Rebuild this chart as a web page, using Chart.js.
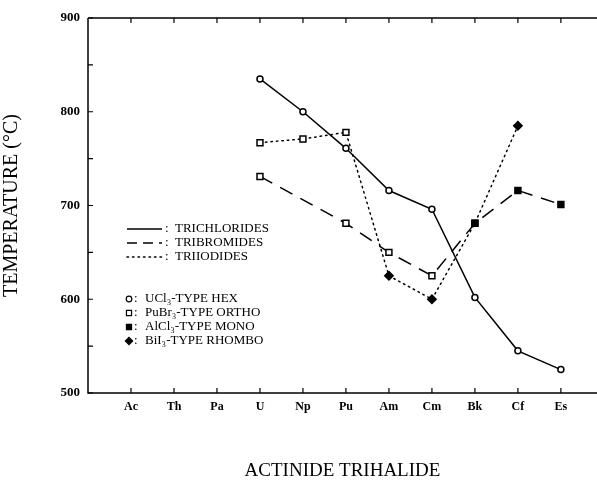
<!DOCTYPE html>
<html>
<head>
<meta charset="utf-8">
<script src="https://cdn.jsdelivr.net/npm/chart.js@4/dist/chart.umd.min.js"></script>
<style>
  html, body { margin: 0; padding: 0; background: #fff; }
  #wrap { width: 597px; height: 485px; position: relative; }
</style>
</head>
<body>
<div id="wrap"><canvas id="c" width="597" height="485"></canvas></div>
<script>
// ---- data ----
const categories = ['Ac', 'Th', 'Pa', 'U', 'Np', 'Pu', 'Am', 'Cm', 'Bk', 'Cf', 'Es'];
const trichlorides = [null, null, null, 835, 800, 761, 716, 696, 602, 545, 525];
const tribromides  = [null, null, null, 731, null, 681, 650, 625, 681, 716, 701];
const triiodides   = [null, null, null, 767, 771, 778, 625, 600, 681, 785, null];
// structure type of each point: H = UCl3 hex, O = PuBr3 ortho, M = AlCl3 mono, R = BiI3 rhombo
const trichlorideTypes = [null, null, null, 'H', 'H', 'H', 'H', 'H', 'H', 'H', 'H'];
const tribromideTypes  = [null, null, null, 'O', null, 'O', 'O', 'O', 'M', 'M', 'M'];
const triiodideTypes   = [null, null, null, 'O', 'O', 'O', 'R', 'R', 'M', 'R', null];
const yTicks = [500, 550, 600, 650, 700, 750, 800, 850, 900];
const seriesNames = ['TRICHLORIDES', 'TRIBROMIDES', 'TRIIODIDES'];
const typeNames = ['UCl\u2083-TYPE HEX', 'PuBr\u2083-TYPE ORTHO', 'AlCl\u2083-TYPE MONO', 'BiI\u2083-TYPE RHOMBO'];

const SERIF = '"Liberation Serif", "DejaVu Serif", serif';
const X_MIN = -1, X_MAX = 10.84;
const typeStyle = { H: 'circle', O: 'rect', M: 'rect', R: 'rectRot' };
const typeFill  = { H: '#fff', O: '#fff', M: '#000', R: '#000' };
const typeRadius = { H: 3, O: 4.2, M: 4.2, R: 4.2 };

function makeDataset(label, values, types, dash) {
  return {
    label,
    data: values.map((v, i) => ({ x: i, y: v })),
    borderColor: '#000',
    borderWidth: 1.5,
    borderDash: dash,
    borderCapStyle: dash.length && dash[0] < 3 ? 'round' : 'butt',
    tension: 0,
    spanGaps: true,
    pointStyle: types.map(t => t ? typeStyle[t] : 'circle'),
    pointBackgroundColor: types.map(t => t ? typeFill[t] : '#fff'),
    pointBorderColor: '#000',
    pointBorderWidth: 1.5,
    pointRadius: types.map(t => t ? typeRadius[t] : 0),
    pointHoverRadius: types.map(t => t ? typeRadius[t] : 0),
    fill: false
  };
}

const framePlugin = {
  id: 'frame',
  afterDraw(chart) {
    const { ctx, chartArea: { left, right, top, bottom }, scales: { x, y } } = chart;
    ctx.save();
    ctx.strokeStyle = '#000';
    ctx.lineWidth = 1.5;
    ctx.setLineDash([]);
    ctx.beginPath();
    ctx.moveTo(left, top); ctx.lineTo(right, top);
    ctx.moveTo(left, top); ctx.lineTo(left, bottom); ctx.lineTo(right, bottom);
    ctx.stroke();
    ctx.lineWidth = 1.2;
    ctx.beginPath();
    yTicks.forEach(v => {
      const py = y.getPixelForValue(v);
      ctx.moveTo(left, py); ctx.lineTo(left + 5, py);
    });
    categories.forEach((c, i) => {
      const px = x.getPixelForValue(i);
      ctx.moveTo(px, bottom); ctx.lineTo(px, bottom - 5);
      ctx.moveTo(px, top); ctx.lineTo(px, top + 5);
    });
    ctx.stroke();

    // legend: line styles
    ctx.fillStyle = '#000';
    ctx.font = '13px ' + SERIF;
    ctx.textBaseline = 'middle';
    const dashes = [[], [10, 6], [1.5, 4]];
    const rowsY = [229, 243, 257];
    seriesNames.forEach((name, k) => {
      const yy = rowsY[k];
      ctx.lineWidth = 1.5;
      ctx.setLineDash(dashes[k]);
      ctx.lineCap = k === 2 ? 'round' : 'butt';
      ctx.beginPath();
      ctx.moveTo(127, yy); ctx.lineTo(162, yy);
      ctx.stroke();
      ctx.setLineDash([]);
      ctx.fillText(':', 165, yy);
      ctx.fillText(name, 175, yy);
    });
    // legend: marker types
    const mRowsY = [299, 313, 327, 341];
    const mTypes = ['H', 'O', 'M', 'R'];
    mTypes.forEach((t, k) => {
      const yy = mRowsY[k];
      ctx.lineWidth = 1.2;
      ctx.setLineDash([]);
      ctx.fillStyle = typeFill[t];
      ctx.strokeStyle = '#000';
      Chart.helpers.drawPoint(ctx, { pointStyle: typeStyle[t], radius: t === 'H' ? 2.8 : 3.6, borderWidth: 1.2, rotation: 0 }, 129, yy);
      ctx.fillStyle = '#000';
      ctx.fillText(':', 134, yy);
      ctx.fillText(typeNames[k], 145, yy);
    });
    ctx.restore();
  }
};

new Chart(document.getElementById('c'), {
  type: 'line',
  data: {
    datasets: [
      makeDataset('TRICHLORIDES', trichlorides, trichlorideTypes, []),
      makeDataset('TRIBROMIDES', tribromides, tribromideTypes, [14, 9]),
      makeDataset('TRIIODIDES', triiodides, triiodideTypes, [1.5, 4])
    ]
  },
  options: {
    responsive: false,
    animation: false,
    events: [],
    layout: { autoPadding: false, padding: { top: 18, right: 0, left: 0, bottom: 0 } },
    plugins: { legend: { display: false }, tooltip: { enabled: false } },
    scales: {
      x: {
        type: 'linear',
        min: X_MIN,
        max: X_MAX,
        afterBuildTicks(scale) {
          scale.ticks = [{ value: X_MIN }].concat(categories.map((c, i) => ({ value: i })), [{ value: X_MAX }]);
        },
        afterFit(scale) { scale.height = 92; },
        grid: { display: false, drawTicks: false },
        border: { display: false },
        ticks: {
          padding: 0,
          autoSkip: false,
          maxRotation: 0,
          color: '#000',
          font: { family: SERIF, size: 12, weight: 'bold', lineHeight: '28px' },
          callback: (v) => (Number.isInteger(v) && categories[v]) ? categories[v] : ''
        },
        title: {
          display: true,
          text: 'ACTINIDE TRIHALIDE',
          color: '#000',
          font: { family: SERIF, size: 19 },
          padding: { top: 0, bottom: 3 }
        }
      },
      y: {
        type: 'linear',
        min: 500,
        max: 900,
        afterBuildTicks(scale) { scale.ticks = yTicks.map(v => ({ value: v })); },
        afterFit(scale) { scale.width = 88; },
        grid: { display: false, drawTicks: false },
        border: { display: false },
        ticks: {
          padding: 8,
          color: '#000',
          font: { family: SERIF, size: 13, weight: 'bold' },
          callback: (v) => (v % 100 === 0 ? String(v) : '')
        },
        title: {
          display: true,
          text: 'TEMPERATURE (\u00B0C)',
          color: '#000',
          font: { family: SERIF, size: 20 },
          padding: { top: 0, bottom: 0 }
        }
      }
    }
  },
  plugins: [framePlugin]
});
</script>
</body>
</html>
